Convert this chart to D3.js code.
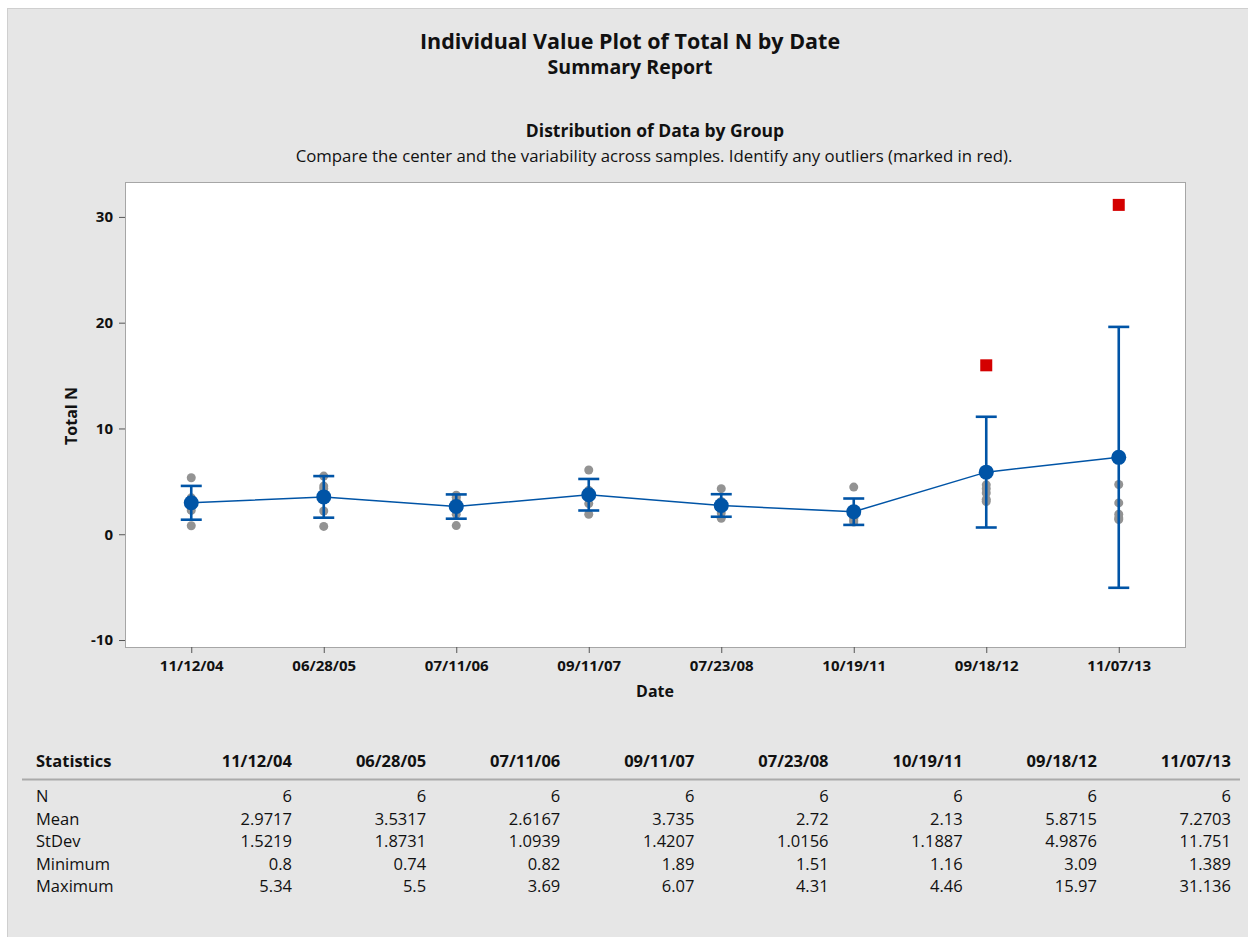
<!DOCTYPE html>
<html><head><meta charset="utf-8">
<script src="https://cdn.jsdelivr.net/npm/d3@7"></script>
<style>
body{margin:0;background:#fff;}
svg{display:block;font-family:"Open Sans","Noto Sans",sans-serif;}
</style></head>
<body><svg id="c" width="1248" height="937"></svg>
<script>
const dates = ["11/12/04","06/28/05","07/11/06","09/11/07","07/23/08","10/19/11","09/18/12","11/07/13"];
const values = [
  [0.8, 2.25, 2.65, 3.35, 3.44, 5.34],
  [0.74, 2.2, 3.9, 4.3, 4.55, 5.5],
  [0.82, 1.9, 2.6, 3.2, 3.49, 3.69],
  [1.89, 2.9, 3.5, 3.9, 4.15, 6.07],
  [1.51, 2.0, 2.5, 2.9, 3.1, 4.31],
  [1.16, 1.3, 1.5, 2.0, 2.36, 4.46],
  [3.09, 3.3, 3.9, 4.3, 4.669, 15.97],
  [1.389, 1.537, 1.9, 2.96, 4.7, 31.136]
];
const outliers = [[],[],[],[],[],[],[15.97],[31.136]];
const nVals = [6,6,6,6,6,6,6,6];
const means = [2.9717,3.5317,2.6167,3.735,2.72,2.13,5.8715,7.2703];
const stdevs = [1.5219,1.8731,1.0939,1.4207,1.0156,1.1887,4.9876,11.751];
const mins = [0.8,0.74,0.82,1.89,1.51,1.16,3.09,1.389];
const maxs = [5.34,5.5,3.69,6.07,4.31,4.46,15.97,31.136];
const yTicks = [-10,0,10,20,30];
const tCrit = 2.5706;

const svg = d3.select("#c");
const BLUE = "#0054a6", GRAY = "#939393", RED = "#d40000";
const FONT = '"Open Sans","Noto Sans",sans-serif';

// background panel
svg.append("rect").attr("x",7.5).attr("y",8.5).attr("width",1250).attr("height",940)
  .attr("fill","#e6e6e6").attr("stroke","#cfcfcf");

const plot = {x:125, y:182, w:1060, h:465};
svg.append("rect").attr("x",plot.x+0.5).attr("y",plot.y+0.5).attr("width",plot.w).attr("height",plot.h)
  .attr("fill","#fff").attr("stroke","#a6a6a6");

// titles
const tc = 630;
svg.append("text").attr("x",tc).attr("y",49).attr("text-anchor","middle").attr("font-size",21.5).attr("font-weight","bold").attr("fill","#111").text("Individual Value Plot of Total N by Date");
svg.append("text").attr("x",tc).attr("y",74).attr("text-anchor","middle").attr("font-size",19.5).attr("font-weight","bold").attr("fill","#111").text("Summary Report");
svg.append("text").attr("x",655).attr("y",137).attr("text-anchor","middle").attr("font-size",17.5).attr("font-weight","bold").attr("fill","#111").text("Distribution of Data by Group");
svg.append("text").attr("x",654).attr("y",162).attr("text-anchor","middle").attr("font-size",16.8).attr("fill","#111").text("Compare the center and the variability across samples. Identify any outliers (marked in red).");

const x = d3.scalePoint().domain(dates).range([plot.x, plot.x+plot.w]).padding(0.5);
const y = d3.scaleLinear().domain([-10.66, 33.3]).range([plot.y+plot.h, plot.y]);

// axes
const yAxis = svg.append("g").attr("transform",`translate(${plot.x},0)`)
  .call(d3.axisLeft(y).tickValues(yTicks).tickFormat(d=>String(d)).tickSize(6).tickPadding(6));
const xAxis = svg.append("g").attr("transform",`translate(0,${plot.y+plot.h})`)
  .call(d3.axisBottom(x).tickSize(6).tickPadding(7));
[yAxis,xAxis].forEach(a=>{
  a.select(".domain").remove();
  a.selectAll("line").attr("stroke","#555");
  a.selectAll("text").attr("font-size",15).attr("font-weight","bold").attr("fill","#111").attr("font-family",FONT);
});
svg.append("text").attr("x",655).attr("y",697).attr("text-anchor","middle").attr("font-size",16).attr("font-weight","bold").attr("fill","#111").text("Date");
svg.append("text").attr("transform","translate(77,416) rotate(-90)").attr("text-anchor","middle").attr("font-size",16).attr("font-weight","bold").attr("fill","#111").text("Total N");

// individual points
const pts = [];
values.forEach((vs,i)=>vs.forEach(v=>{ if(!outliers[i].includes(v)) pts.push({d:dates[i],v}); }));
svg.append("g").selectAll("circle").data(pts).join("circle")
  .attr("cx",d=>x(d.d)).attr("cy",d=>y(d.v)).attr("r",4.5).attr("fill",GRAY);

// outliers
const outs = [];
outliers.forEach((vs,i)=>vs.forEach(v=>outs.push({d:dates[i],v})));
svg.append("g").selectAll("rect").data(outs).join("rect")
  .attr("x",d=>x(d.d)-6).attr("y",d=>y(d.v)-6).attr("width",12).attr("height",12).attr("fill",RED);

// mean line
svg.append("path").datum(means).attr("fill","none").attr("stroke",BLUE).attr("stroke-width",1.5)
  .attr("d",d3.line().x((d,i)=>x(dates[i])).y(d=>y(d)));

// CI bars
const ci = means.map((m,i)=>{const h=tCrit*stdevs[i]/Math.sqrt(nVals[i]); return {d:dates[i],lo:m-h,hi:m+h};});
const eb = svg.append("g").attr("stroke",BLUE).attr("stroke-width",2.6);
eb.selectAll(".v").data(ci).join("line").attr("x1",d=>x(d.d)).attr("x2",d=>x(d.d)).attr("y1",d=>y(d.lo)).attr("y2",d=>y(d.hi));
eb.selectAll(".t").data(ci).join("line").attr("x1",d=>x(d.d)-10.5).attr("x2",d=>x(d.d)+10.5).attr("y1",d=>y(d.hi)).attr("y2",d=>y(d.hi));
eb.selectAll(".b").data(ci).join("line").attr("x1",d=>x(d.d)-10.5).attr("x2",d=>x(d.d)+10.5).attr("y1",d=>y(d.lo)).attr("y2",d=>y(d.lo));

// mean dots
svg.append("g").selectAll("circle").data(means).join("circle")
  .attr("cx",(d,i)=>x(dates[i])).attr("cy",d=>y(d)).attr("r",7.5).attr("fill",BLUE);

// table
const colRight = d3.scalePoint().domain(dates).range([292,1231]);
const tbl = svg.append("g").attr("fill","#111");
tbl.append("text").attr("x",36).attr("y",767).attr("font-size",16.5).attr("font-weight","bold").text("Statistics");
tbl.selectAll(".h").data(dates).join("text").attr("x",d=>colRight(d)).attr("y",767).attr("text-anchor","end").attr("font-size",16.5).attr("font-weight","bold").text(d=>d);
svg.append("line").attr("x1",22).attr("x2",1240).attr("y1",779.5).attr("y2",779.5).attr("stroke","#aaaaaa").attr("stroke-width",2);
const rows = [["N",nVals],["Mean",means],["StDev",stdevs],["Minimum",mins],["Maximum",maxs]];
rows.forEach((r,ri)=>{
  const yy = 802 + ri*22.5;
  tbl.append("text").attr("x",36).attr("y",yy).attr("font-size",16.5).text(r[0]);
  tbl.selectAll(".r"+ri).data(r[1]).join("text").attr("x",(d,i)=>colRight(dates[i])).attr("y",yy).attr("text-anchor","end").attr("font-size",16.5).text(d=>String(d));
});
</script></body></html>
